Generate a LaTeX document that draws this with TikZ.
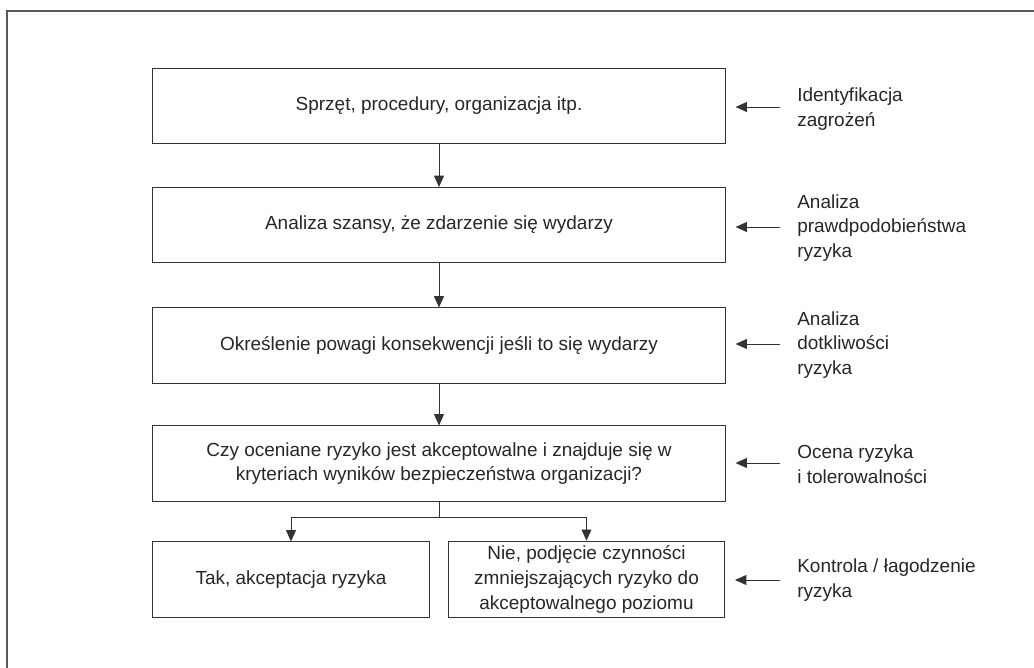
\documentclass[tikz,border=0pt]{standalone}
\usepackage{fontspec}
\setmainfont{Liberation Sans}
\usepackage{tikz}
\usetikzlibrary{arrows.meta, positioning}

\tikzset{
	box/.style={shape=rectangle, draw=black!80, line width=0.7pt, minimum width=14.3cm, minimum height=1.875cm, align=center, text=black!85},
	halfbox/.style={box, minimum width=6.9cm},
	side/.style={anchor=west, align=left, inner sep=0pt, text=black!85},
	flow/.style={draw=black!80, line width=0.7pt, -{Triangle[length=8pt, width=7pt]}}
}

\begin{document}
\begin{tikzpicture}[x=0.025cm, y=-0.025cm, font=\fontsize{13.5}{17.5}\selectfont]
	% Paths, nodes and wires:
	\useasboundingbox (0, 0) rectangle (1034, 668);
	\draw[black!65, line width=1pt] (7, 668) -- (7, 11) -- (1034, 11);

	\node[box](B1) at (439, 106){Sprzęt, procedury, organizacja itp.};
	\node[box](B2) at (439, 225){Analiza szansy, że zdarzenie się wydarzy};
	\node[box](B3) at (439, 345.5){Określenie powagi konsekwencji jeśli to się wydarzy};
	\node[box](B4) at (439, 463.5){Czy oceniane ryzyko jest akceptowalne i znajduje się w\\kryteriach wyników bezpieczeństwa organizacji?};
	\node[halfbox](B5) at (291, 579.5){Tak, akceptacja ryzyka};
	\node[halfbox](B6) at (586.5, 579.5){Nie, podjęcie czynności\\zmniejszających ryzyko do\\akceptowalnego poziomu};

	\draw[flow] (B1) -- (B2);
	\draw[flow] (B2) -- (B3);
	\draw[flow] (B3) -- (B4);
	\coordinate (J) at (439, 517);
	\draw[draw=black!80, line width=0.7pt] (B4.south) -- (J);
	\draw[flow] (J) -| (B5.north);
	\draw[flow] (J) -| (B6.north);

	\node[side](L1) at (797, 109){Identyfikacja\\zagrożeń};
	\node[side](L2) at (797, 228){Analiza\\prawdpodobieństwa\\ryzyka};
	\node[side](L3) at (797, 345){Analiza\\dotkliwości\\ryzyka};
	\node[side](L4) at (797, 464){Ocena ryzyka\\i tolerowalności};
	\node[side](L5) at (797, 580){Kontrola / łagodzenie\\ryzyka};

	\coordinate (A1) at (780, 107);
	\coordinate (A2) at (780, 227);
	\coordinate (A3) at (780, 344);
	\coordinate (A4) at (780, 463);
	\coordinate (A5) at (780, 580);
	\draw[flow, shorten >=0.25cm] (A1) -- (A1 -| B1.east);
	\draw[flow, shorten >=0.25cm] (A2) -- (A2 -| B2.east);
	\draw[flow, shorten >=0.25cm] (A3) -- (A3 -| B3.east);
	\draw[flow, shorten >=0.25cm] (A4) -- (A4 -| B4.east);
	\draw[flow, shorten >=0.25cm] (A5) -- (A5 -| B6.east);
\end{tikzpicture}
\end{document}
